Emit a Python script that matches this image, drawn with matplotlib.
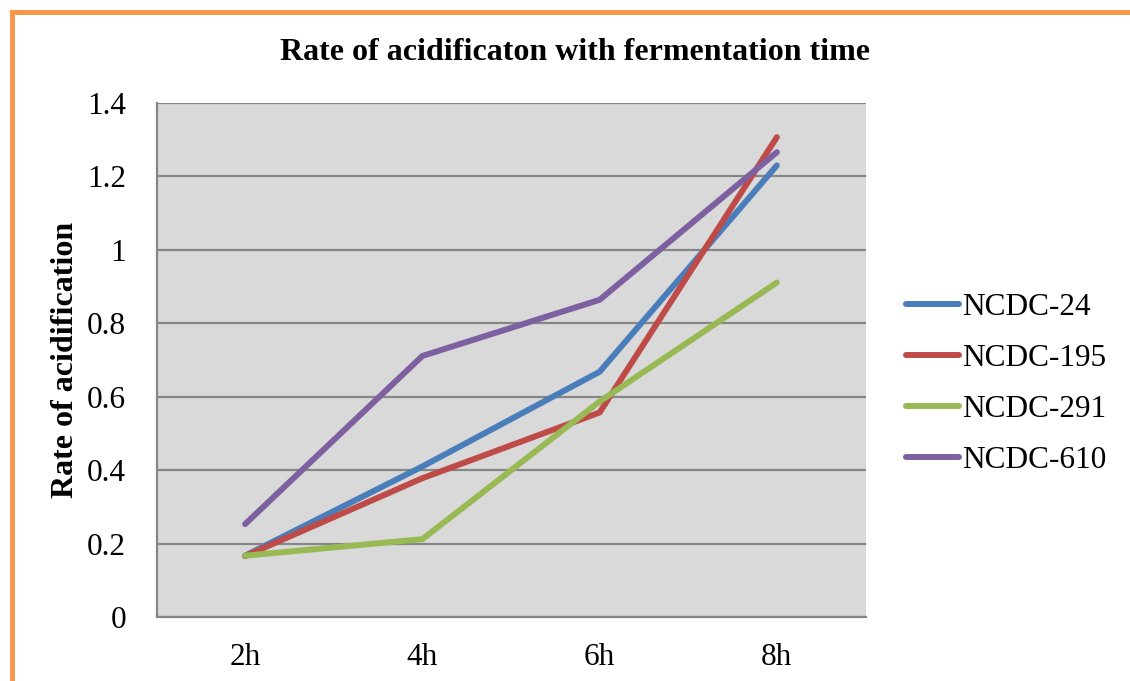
import matplotlib
matplotlib.use("Agg")
import matplotlib.pyplot as plt
from matplotlib.patches import Rectangle

times = ["2h", "4h", "6h", "8h"]
ncdc_24 = [0.167, 0.410, 0.668, 1.230]
ncdc_195 = [0.166, 0.378, 0.557, 1.307]
ncdc_291 = [0.167, 0.212, 0.587, 0.911]
ncdc_610 = [0.253, 0.711, 0.864, 1.266]

series = [
    ("NCDC-24", ncdc_24, "#4A7EBB"),
    ("NCDC-195", ncdc_195, "#BE4B48"),
    ("NCDC-291", ncdc_291, "#98B954"),
    ("NCDC-610", ncdc_610, "#7D60A0"),
]
y_ticks = [0, 0.2, 0.4, 0.6, 0.8, 1.0, 1.2, 1.4]
y_tick_labels = ["0", "0.2", "0.4", "0.6", "0.8", "1", "1.2", "1.4"]

plt.rcParams["font.family"] = ["Liberation Serif", "DejaVu Serif"]

W, H = 1130, 681
fig = plt.figure(figsize=(W / 100, H / 100), dpi=100)

# orange chart frame (left and top edges visible)
fig.patches.append(Rectangle((12 / W, -0.1), 1.2, 1 - 12 / H + 0.1,
                             transform=fig.transFigure, fill=False,
                             edgecolor="#F79646", linewidth=3.5))

left, right, top, bottom = 156.5, 865.5, 103, 617
ax = fig.add_axes([left / W, 1 - bottom / H, (right - left) / W, (bottom - top) / H])
ax.set_facecolor("#D9D9D9")

x = list(range(len(times)))
for name, vals, color in series:
    ax.plot(x, vals, color=color, linewidth=4.3, solid_capstyle="round",
            solid_joinstyle="miter", label=name, zorder=3)

ax.set_xlim(-0.5, len(times) - 0.5)
ax.set_ylim(0, 1.4)
ax.set_yticks(y_ticks)
ax.set_yticklabels(y_tick_labels)
ax.set_xticks(x)
ax.set_xticklabels(times)
ax.tick_params(axis="both", length=0, labelsize=22.5)
ax.tick_params(axis="y", pad=22)
ax.tick_params(axis="x", pad=19)

ax.grid(axis="y", color="#868686", linewidth=1.6, zorder=1)
ax.set_axisbelow(True)
for side in ("top", "right"):
    ax.spines[side].set_visible(False)
for side in ("left", "bottom"):
    ax.spines[side].set_color("#868686")
    ax.spines[side].set_linewidth(1.6)

ax.set_ylabel("Rate of acidification", fontsize=23, fontweight="bold", labelpad=5)
fig.text(575 / W, 1 - 52 / H, "Rate of acidificaton with fermentation time",
         ha="center", va="center", fontsize=23, fontweight="bold")

leg = ax.legend(loc="center left", bbox_to_anchor=(1.04, 0.453), frameon=False,
                fontsize=22.5, handlelength=1.7, handletextpad=0.08,
                labelspacing=0.7, borderaxespad=0)

fig.savefig("out.png", dpi=100)
